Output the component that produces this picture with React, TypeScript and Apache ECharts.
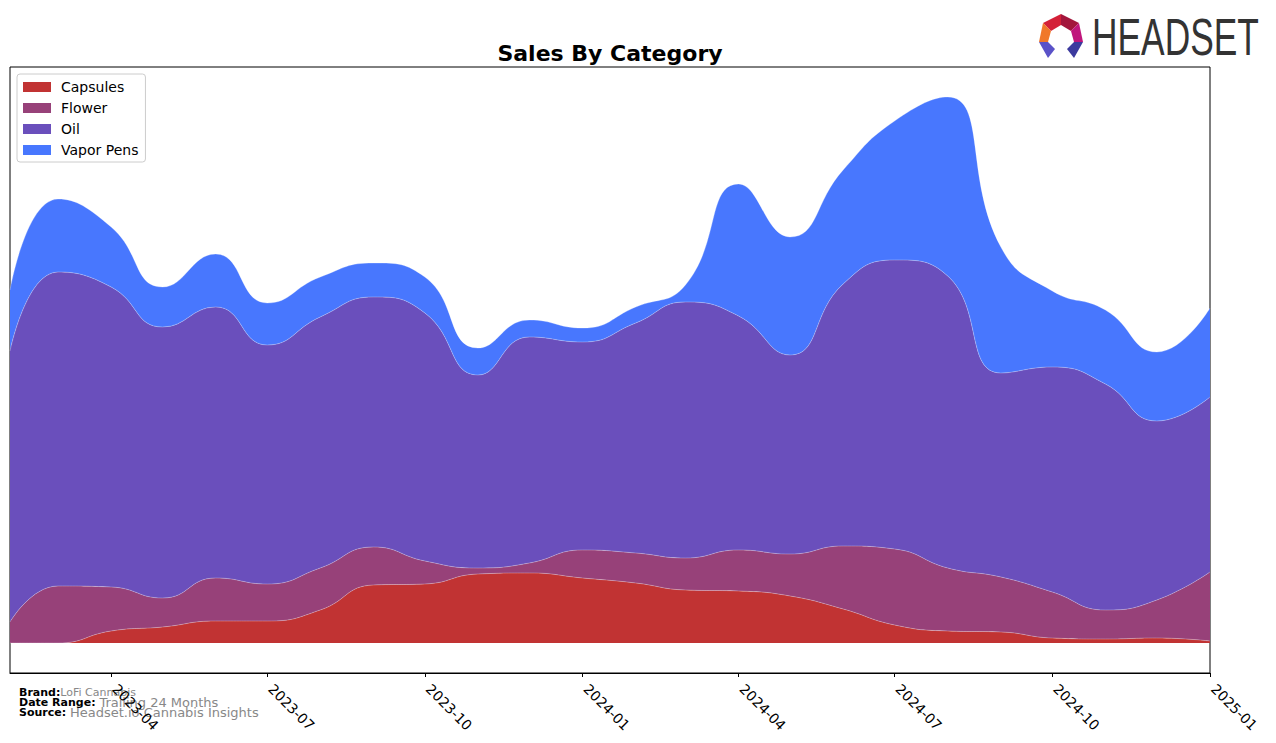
import React, { useEffect, useRef } from "react";
import * as echarts from "echarts";

const months = [
  "2023-02", "2023-03", "2023-04", "2023-05", "2023-06", "2023-07", "2023-08", "2023-09",
  "2023-10", "2023-11", "2023-12", "2024-01", "2024-02", "2024-03", "2024-04", "2024-05",
  "2024-06", "2024-07", "2024-08", "2024-09", "2024-10", "2024-11", "2024-12", "2025-01",
];
const capsules = [0, 0, 12, 16, 22, 22, 33, 58, 59, 69, 70, 65, 60, 53, 52, 47, 34, 18, 12, 11, 5, 4, 5, 2];
const flower = [21, 57, 44, 29, 43, 37, 42, 38, 23, 6, 10, 28, 30, 32, 41, 42, 63, 76, 63, 55, 46, 29, 38, 69];
const oil = [271, 314, 300, 271, 271, 239, 251, 250, 248, 193, 226, 208, 230, 256, 234, 199, 262, 289, 292, 204, 225, 226, 179, 175];
const vaporPens = [61, 73, 60, 40, 53, 42, 40, 34, 36, 27, 17, 14, 16, 17, 132, 118, 114, 139, 179, 126, 76, 74, 69, 89];
const tickLabels = ["2023-04", "2023-07", "2023-10", "2024-01", "2024-04", "2024-07", "2024-10", "2025-01"];

const seriesDefs = [
  { name: "Capsules", data: capsules, color: "#c13333" },
  { name: "Flower", data: flower, color: "#974179" },
  { name: "Oil", data: oil, color: "#6a4fbc" },
  { name: "Vapor Pens", data: vaporPens, color: "#4877fe" },
];

const toTs = (s: string) => {
  const [y, m] = s.split("-").map(Number);
  return Date.UTC(y, m - 1, 1);
};
const fmt = (v: number) => {
  const d = new Date(v);
  const m = d.getUTCMonth() + 1;
  return `${d.getUTCFullYear()}-${m < 10 ? "0" + m : m}`;
};

const FONT = "DejaVu Sans";

export default function App() {
  const ref = useRef<HTMLDivElement>(null);
  useEffect(() => {
    if (!ref.current) return;
    const chart = echarts.init(ref.current, null, { renderer: "svg" });
    const tickVals = tickLabels.map(toTs);
    const xMin = toTs(months[0]);
    const xMax = toTs(months[months.length - 1]);
    chart.setOption({
      animation: false,
      backgroundColor: "#fff",
      textStyle: { fontFamily: FONT },
      grid: {
        left: 10,
        right: 66,
        top: 67,
        bottom: 70,
        containLabel: false,
        show: true,
        borderColor: "#000",
        borderWidth: 1,
      },
      legend: {
        orient: "vertical",
        left: 17,
        top: 74,
        icon: "rect",
        itemWidth: 28,
        itemHeight: 10,
        itemGap: 7,
        padding: [6, 7, 5, 6],
        borderColor: "#cccccc",
        borderWidth: 1,
        borderRadius: 3,
        backgroundColor: "rgba(255,255,255,0.8)",
        textStyle: { fontSize: 14, fontFamily: FONT, color: "#000", lineHeight: 14, padding: [0, 0, 0, 5] },
        data: seriesDefs.map((s) => s.name),
      },
      xAxis: [
        {
          type: "time",
          min: xMin,
          max: xMax,
          axisLine: { show: false },
          axisTick: { show: false },
          axisLabel: { show: false },
          splitLine: { show: false },
        },
        {
          type: "value",
          position: "bottom",
          min: xMin,
          max: xMax,
          axisLine: { show: true, onZero: false, lineStyle: { color: "#000", width: 1 } },
          axisTick: { show: true, customValues: tickVals, length: 4, lineStyle: { color: "#000" } },
          axisLabel: {
            customValues: tickVals,
            formatter: (v: number) => fmt(v),
            rotate: -45,
            fontSize: 14,
            fontFamily: FONT,
            color: "#000",
            margin: 10,
            padding: [0, 0, 0, 5],
          },
          splitLine: { show: false },
        },
      ],
      yAxis: {
        type: "value",
        min: -30,
        max: 576,
        show: false,
        splitLine: { show: false },
      },
      graphic: [
        {
          type: "text",
          x: 610,
          y: 53,
          style: {
            text: "Sales By Category",
            fontSize: 22,
            fontWeight: "bold",
            fontFamily: FONT,
            fill: "#000",
            align: "center",
            verticalAlign: "middle",
          },
        },
        {
          type: "text",
          x: 19,
          y: 692,
          style: {
            text: "{b|Brand:}{s|LoFi Cannabis}",
            verticalAlign: "middle",
            rich: {
              b: { fontSize: 11, fontWeight: "bold", fontFamily: FONT, fill: "#000" },
              s: { fontSize: 11, fontFamily: FONT, fill: "#888" },
            },
          },
        },
        {
          type: "text",
          x: 19,
          y: 702,
          style: {
            text: "{b|Date Range: }{s|Trailing 24 Months}",
            verticalAlign: "middle",
            rich: {
              b: { fontSize: 11, fontWeight: "bold", fontFamily: FONT, fill: "#000" },
              s: { fontSize: 13, fontFamily: FONT, fill: "#888" },
            },
          },
        },
        {
          type: "text",
          x: 19,
          y: 712,
          style: {
            text: "{b|Source: }{s|Headset.io Cannabis Insights}",
            verticalAlign: "middle",
            rich: {
              b: { fontSize: 11, fontWeight: "bold", fontFamily: FONT, fill: "#000" },
              s: { fontSize: 13, fontFamily: FONT, fill: "#888" },
            },
          },
        },
        { type: "polygon", shape: { points: [[1061, 14], [1043, 23], [1051, 31], [1061, 25]] }, style: { fill: "#d42038" } },
        { type: "polygon", shape: { points: [[1061, 14], [1079, 23], [1071, 31], [1061, 25]] }, style: { fill: "#a3163c" } },
        { type: "polygon", shape: { points: [[1043, 23], [1039, 42], [1048, 42], [1051, 31]] }, style: { fill: "#f0782a" } },
        { type: "polygon", shape: { points: [[1079, 23], [1083, 42], [1074, 42], [1071, 31]] }, style: { fill: "#c0167c" } },
        { type: "polygon", shape: { points: [[1039, 42], [1048, 42], [1055, 49], [1048, 58]] }, style: { fill: "#5a52c8" } },
        { type: "polygon", shape: { points: [[1083, 42], [1074, 42], [1067, 49], [1074, 58]] }, style: { fill: "#3c3a9e" } },
        {
          type: "text",
          x: 1092,
          y: 37,
          scaleX: 0.68,
          style: {
            text: "HEADSET",
            fontSize: 52,
            fontFamily: "Liberation Sans",
            fill: "#333333",
            verticalAlign: "middle",
            align: "left",
          },
        },
      ],
      series: seriesDefs.map((s) => ({
        name: s.name,
        type: "line",
        xAxisIndex: 0,
        stack: "total",
        smooth: 0.5,
        symbol: "none",
        data: months.map((m, i) => [toTs(m), s.data[i]]),
        itemStyle: { color: s.color },
        lineStyle: { width: 0.8, color: "rgba(255,255,255,0.35)" },
        areaStyle: { color: s.color, opacity: 1 },
      })),
    });
    return () => chart.dispose();
  }, []);
  return (
    <div
      ref={ref}
      style={{ position: "fixed", left: 0, top: 0, width: 1276, height: 743 }}
    />
  );
}
